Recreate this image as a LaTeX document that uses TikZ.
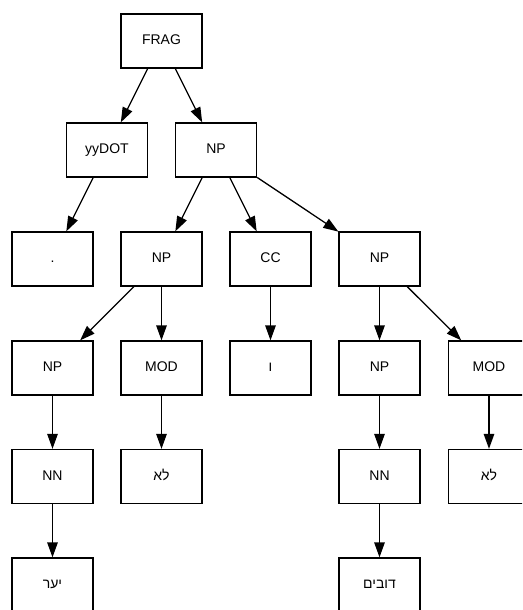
\documentclass[tikz,border=0pt]{standalone}
\usepackage{fontspec}
\setmainfont{Liberation Sans}
\newfontfamily\hebfont[Script=Hebrew]{Liberation Sans}
\TeXXeTstate=1
\usetikzlibrary{arrows.meta}
\tikzset{
  box/.style={draw, line width=1.3pt, minimum width=81pt, minimum height=54pt, inner sep=0pt, text height=10pt, text depth=3pt, font=\fontsize{14}{17}\selectfont},
  edge/.style={line width=1.3pt, -{Triangle[length=15pt,width=10.5pt]}}
}
\newcommand{\heb}[1]{{\hebfont\beginR #1\endR}}
\begin{document}
\begin{tikzpicture}[x=1pt,y=-1pt]
\useasboundingbox (0,0) rectangle (522,610);
\clip (0,0) rectangle (522,610);
\node[box] (frag) at (161.5,41) {FRAG};
\node[box] (yydot) at (107,150) {yyDOT};
\node[box] (np1) at (216,150) {NP};
\node[box] (dot) at (52.5,259) {.};
\node[box] (np2) at (161.5,259) {NP};
\node[box] (cc) at (270.5,259) {CC};
\node[box] (np3) at (379.5,259) {NP};
\node[box] (np4) at (52.5,368) {NP};
\node[box] (mod1) at (161.5,368) {MOD};
\node[box] (vav) at (270.5,368) {\heb{ו}};
\node[box] (np5) at (379.5,368) {NP};
\node[box] (mod2) at (489,368) {MOD};
\node[box] (nn1) at (52.5,476.5) {NN};
\node[box] (la1) at (161.5,476.5) {\heb{לא}};
\node[box] (nn2) at (379.5,476.5) {NN};
\node[box] (la2) at (489,476.5) {\heb{לא}};
\node[box] (yaar) at (52.5,585) {\heb{יער}};
\node[box] (dubim) at (379.5,585) {\heb{דובים}};
\draw[edge] (frag) -- (yydot);
\draw[edge] (frag) -- (np1);
\draw[edge] (yydot) -- (dot);
\draw[edge] (np1) -- (np2);
\draw[edge] (np1) -- (cc);
\draw[edge] (np1) -- (np3);
\draw[edge] (np2) -- (np4);
\draw[edge] (np2) -- (mod1);
\draw[edge] (cc) -- (vav);
\draw[edge] (np3) -- (np5);
\draw[edge] (np3) -- (mod2);
\draw[edge] (np4) -- (nn1);
\draw[edge] (mod1) -- (la1);
\draw[edge] (np5) -- (nn2);
\draw[edge] (mod2) -- (la2);
\draw[edge] (nn1) -- (yaar);
\draw[edge] (nn2) -- (dubim);
\end{tikzpicture}
\end{document}
